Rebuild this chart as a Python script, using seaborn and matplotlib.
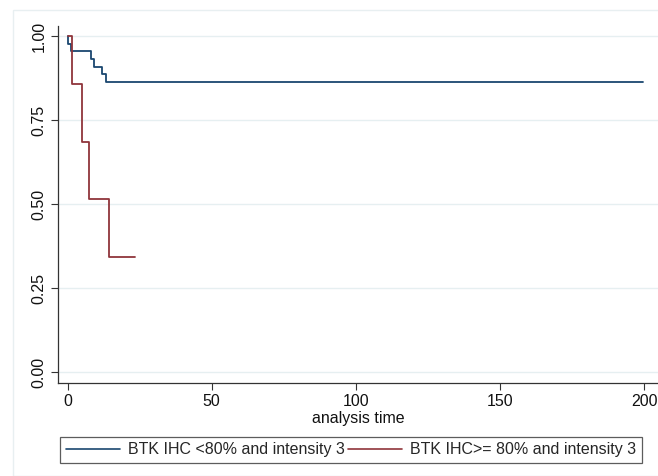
import matplotlib
matplotlib.use("Agg")
import matplotlib.pyplot as plt
import seaborn as sns
import pandas as pd
from matplotlib.lines import Line2D
from matplotlib.patches import Rectangle

# Data (Kaplan-Meier step curves)
group_labels = ["BTK IHC <80% and intensity 3", "BTK IHC>= 80% and intensity 3"]
blue_time = [0, 0.3, 1.1, 8.2, 9.1, 11.8, 13.5, 199.5]
blue_surv = [1.0, 0.977, 0.955, 0.932, 0.909, 0.886, 0.864, 0.864]
red_time = [0, 1.5, 5.1, 7.3, 14.3, 23.5]
red_surv = [1.0, 0.857, 0.686, 0.514, 0.343, 0.343]
x_ticks = [0, 50, 100, 150, 200]
y_ticks = [0.0, 0.25, 0.5, 0.75, 1.0]
y_ticklabels = ["0.00", "0.25", "0.50", "0.75", "1.00"]
colors = ["#1a476f", "#90353b"]

df = pd.concat([
    pd.DataFrame({"time": blue_time, "surv": blue_surv, "group": group_labels[0]}),
    pd.DataFrame({"time": red_time, "surv": red_surv, "group": group_labels[1]}),
])

sns.set_style("white")
plt.rcParams["font.family"] = ["Liberation Sans", "DejaVu Sans"]
FS = 11.5

fig = plt.figure(figsize=(6.58, 4.76), dpi=100)
ax = fig.add_axes([0.0877, 0.195, 0.9123, 0.75])

# faint outer frame
fig.patches.append(Rectangle((13/658, 0.0), 1.0, 1 - 10/476, transform=fig.transFigure,
                             fill=False, edgecolor="#e8eff1", linewidth=1.0, zorder=0))

sns.lineplot(data=df, x="time", y="surv", hue="group", hue_order=group_labels,
             palette=colors, drawstyle="steps-post", estimator=None, sort=False,
             linewidth=1.3, legend=False, ax=ax)

ax.set_xlim(-3.4, 204.7)
ax.set_ylim(-0.0327, 1.0298)
ax.set_xticks(x_ticks)
ax.set_yticks(y_ticks)
ax.set_yticklabels(y_ticklabels, rotation=90, va="center")
ax.tick_params(axis="both", direction="out", length=5, width=0.8, color="#333333",
               labelsize=FS, labelcolor="#111111", left=True, bottom=True, pad=3)
ax.set_xlabel("analysis time", fontsize=FS, labelpad=1, color="#111111")
ax.set_ylabel("")
ax.grid(axis="y", color="#e6eff1", linewidth=1.0)
ax.set_axisbelow(True)
for s in ["top", "right"]:
    ax.spines[s].set_visible(False)
for s in ["left", "bottom"]:
    ax.spines[s].set_color("#333333")
    ax.spines[s].set_linewidth(0.9)

handles = [Line2D([], [], color=c, linewidth=1.2) for c in colors]
leg = fig.legend(handles, group_labels, loc="lower left", bbox_to_anchor=(60/658, 1 - 463/476),
                 ncol=2, frameon=True, fancybox=False, fontsize=FS, handlelength=3.4,
                 handletextpad=0.5, columnspacing=0.2, borderpad=0.35, borderaxespad=0)
leg.get_frame().set_edgecolor("#333333")
leg.get_frame().set_linewidth(0.9)

fig.savefig("out.png", dpi=100)
